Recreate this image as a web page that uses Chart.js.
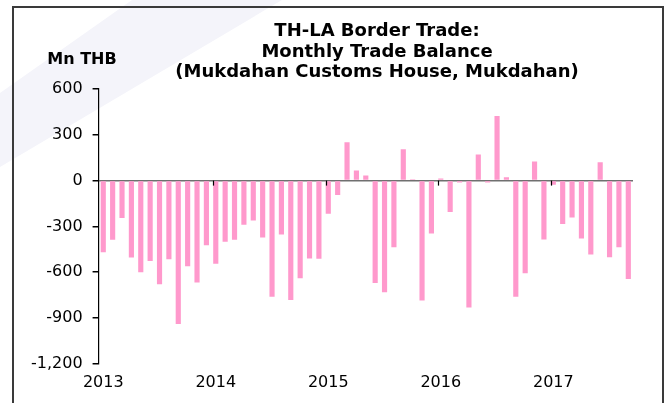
<!DOCTYPE html>
<html>
<head>
<meta charset="utf-8">
<script src="https://cdn.jsdelivr.net/npm/chart.js@4"></script>
<style>
  html, body { margin: 0; padding: 0; background: #fff; }
  #page { position: relative; width: 669px; height: 403px; overflow: hidden; }
  #mark {
    position: absolute; left: 0; top: 0; width: 669px; height: 403px;
    background: #f4f4fa;
    clip-path: polygon(132px 0, 282px 0, 0 167px, 0 93px);
  }
  #frame {
    position: absolute; left: 12px; top: 6px; width: 648px; height: 420px;
    border: 2px solid #3a3a3a;
  }
  #wrap { position: absolute; left: 0; top: 0; width: 669px; height: 403px; }
</style>
</head>
<body>
<div id="page">
  <div id="mark"></div>
  <div id="frame"></div>
  <div id="wrap"><canvas id="chart"></canvas></div>
</div>
<script>
const titleLines = [
  "TH-LA Border Trade:",
  "Monthly Trade Balance",
  "(Mukdahan Customs House, Mukdahan)",
];
const unitLabel = "Mn THB";

const years = ["2013", "2014", "2015", "2016", "2017"];
const months = ["01", "02", "03", "04", "05", "06", "07", "08", "09", "10", "11", "12"];

// monthly trade balance, Mn THB (Jan 2013 - Sep 2017)
const balance2013 = [-470, -388, -245, -504, -600, -526, -679, -515, -940, -561, -668, -423];
const balance2014 = [-545, -401, -388, -289, -261, -372, -760, -353, -782, -639, -510, -512];
const balance2015 = [-217, -94, 252, 66, 33, -670, -731, -436, 206, 9, -786, -346];
const balance2016 = [13, -206, -13, -832, 171, -13, 423, 22, -760, -607, 125, -386];
const balance2017 = [-28, -285, -241, -379, -484, 120, -502, -436, -644];

const yTicks = [600, 300, 0, -300, -600, -900, -1200];

const balance = [
  ...balance2013,
  ...balance2014,
  ...balance2015,
  ...balance2016,
  ...balance2017,
];
const labels = [];
years.forEach((yr, i) => {
  const n = i === years.length - 1 ? balance2017.length : months.length;
  for (let m = 0; m < n; m++) labels.push(`${yr}-${months[m]}`);
});

// header text (title + unit) drawn on the canvas
const headerPlugin = {
  id: "header",
  afterDraw(chart) {
    const ctx = chart.ctx;
    ctx.save();
    ctx.fillStyle = "#000";
    ctx.textAlign = "center";
    ctx.textBaseline = "alphabetic";
    ctx.font = "bold 18px 'DejaVu Sans'";
    titleLines.forEach((t, i) => ctx.fillText(t, 377, 36 + i * 20.5));
    ctx.font = "bold 16px 'DejaVu Sans'";
    ctx.fillText(unitLabel, 82, 64);
    ctx.restore();
  },
};

// small year tick marks sitting on the zero line
const yearTicksPlugin = {
  id: "yearTicks",
  afterDatasetsDraw(chart) {
    const ctx = chart.ctx;
    const meta = chart.getDatasetMeta(0);
    const y0 = chart.scales.y.getPixelForValue(0);
    ctx.save();
    ctx.strokeStyle = "#000";
    ctx.lineWidth = 1.2;
    labels.forEach((lab, i) => {
      if (i === 0 || !lab.endsWith("-01")) return;
      const bar = meta.data[i];
      const x = Math.round(bar.x - bar.width / 2) + 0.5;
      ctx.beginPath();
      ctx.moveTo(x, y0);
      ctx.lineTo(x, y0 + 5);
      ctx.stroke();
    });
    ctx.restore();
  },
};

Chart.defaults.font.family = "'DejaVu Sans'";
Chart.defaults.font.size = 16;
Chart.defaults.color = "#000";

new Chart(document.getElementById("chart"), {
  type: "bar",
  data: {
    labels: labels,
    datasets: [
      {
        data: balance,
        backgroundColor: "#ff99cc",
        borderWidth: 0,
        barPercentage: 0.55,
        categoryPercentage: 1.0,
      },
    ],
  },
  options: {
    responsive: true,
    maintainAspectRatio: false,
    animation: false,
    layout: { padding: { top: 89, bottom: 2, left: 21, right: 36 } },
    plugins: {
      legend: { display: false },
      title: { display: false },
      tooltip: { enabled: false },
    },
    scales: {
      x: {
        grid: { display: false, drawTicks: false },
        border: { display: false },
        ticks: {
          autoSkip: false,
          maxRotation: 0,
          padding: 9,
          callback: (v, i) => (labels[i].endsWith("-01") ? labels[i].slice(0, 4) : null),
        },
      },
      y: {
        min: yTicks[yTicks.length - 1],
        max: yTicks[0],
        afterBuildTicks: (scale) => {
          scale.ticks = yTicks.map((v) => ({ value: v }));
        },
        grid: {
          color: (c) => (c.tick && c.tick.value === 0 ? "#707070" : "transparent"),
          lineWidth: 1.5,
          tickColor: "#000",
          tickLength: 6,
        },
        border: { display: true, color: "#000", width: 1.2 },
        ticks: { padding: 10 },
      },
    },
  },
  plugins: [headerPlugin, yearTicksPlugin],
});
</script>
</body>
</html>
